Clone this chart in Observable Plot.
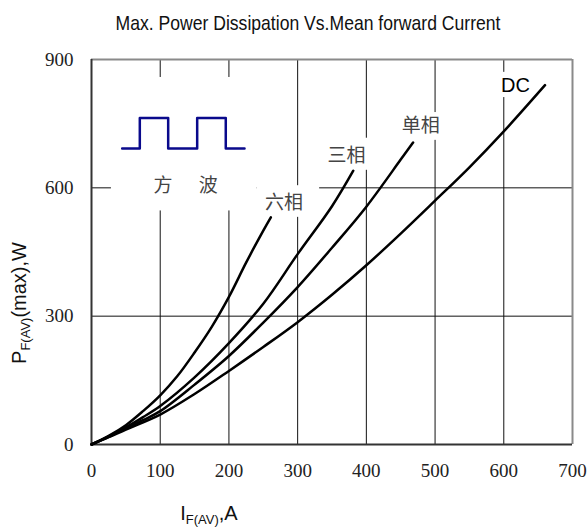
<!DOCTYPE html>
<html>
<head>
<meta charset="utf-8">
<script src="https://cdn.jsdelivr.net/npm/d3@7"></script>
<script src="https://cdn.jsdelivr.net/npm/@observablehq/plot@0.6"></script>
<style>
  html, body { margin: 0; padding: 0; background: #fff; }
  #chart { width: 588px; height: 530px; }
</style>
</head>
<body>
<div id="chart"></div>
<script>
// ---- data ----
const title = "Max. Power Dissipation Vs.Mean forward Current";
const xTicks = [0, 100, 200, 300, 400, 500, 600, 700];
const yTicks = [0, 300, 600, 900];
const gridX = [100, 200, 300, 400, 500, 600];
const gridY = [300, 600];

const dcI = [0, 25, 50, 100, 150, 200, 250, 300, 350, 400, 450, 500, 550, 600, 660];
const dcP = [0, 17, 35, 70, 118, 172, 228, 286, 350, 419, 493, 570, 648, 732, 840];
const singleI = [0, 25, 50, 75, 100, 150, 200, 250, 300, 350, 400, 450, 468];
const singleP = [0, 18, 38, 57, 78, 140, 207, 285, 368, 460, 556, 666, 706];
const threeI = [0, 25, 50, 75, 100, 150, 200, 250, 300, 350, 381];
const threeP = [0, 19, 40, 64, 90, 157, 237, 329, 445, 557, 640];
const sixI = [0, 25, 50, 75, 100, 125, 150, 175, 200, 225, 250, 261];
const sixP = [0, 20, 45, 78, 115, 160, 215, 275, 345, 425, 500, 531];

const seriesNames = ["DC", "单相", "三相", "六相"];
const labelI = [617, 479, 371, 280];
const labelP = [840, 744, 674, 565];

// square-wave legend symbol
const waveI = [44.6, 70.3, 70.3, 111.6, 111.6, 153.8, 153.8, 195.4, 195.4, 222.7];
const waveP = [692, 692, 763, 763, 692, 692, 763, 763, 692, 692];
const waveText = ["方", "波"];
const waveTextI = [104, 170];
const waveTextP = [604, 604];

// blank (white) areas behind legend & labels
const boxI1 = [29, 241, 336, 447, 591];
const boxI2 = [241, 332, 406, 515, 643];
const boxP1 = [546, 531, 641, 711, 811];
const boxP2 = [858, 605, 716, 776, 870];

// ---- build tables ----
const seriesData = [
  ...dcI.map((x, i) => ({name: "DC", x, y: dcP[i]})),
  ...singleI.map((x, i) => ({name: "单相", x, y: singleP[i]})),
  ...threeI.map((x, i) => ({name: "三相", x, y: threeP[i]})),
  ...sixI.map((x, i) => ({name: "六相", x, y: sixP[i]}))
];
const labels = seriesNames.map((t, i) => ({t, x: labelI[i], y: labelP[i]}));
const wave = waveI.map((x, i) => ({x, y: waveP[i]}));
const waveLabels = waveText.map((t, i) => ({t, x: waveTextI[i], y: waveTextP[i]}));
const boxes = boxI1.map((x1, i) => ({x1, x2: boxI2[i], y1: boxP1[i], y2: boxP2[i]}));

const cjk = "Noto Sans CJK SC";
const sans = "Liberation Sans";
const serif = "Liberation Serif";

const chart = Plot.plot({
  width: 588,
  height: 530,
  marginLeft: 91,
  marginRight: 16,
  marginTop: 59,
  marginBottom: 86,
  style: {fontSize: "19px", color: "#222", background: "#fff"},
  x: {domain: [0, 700], axis: null},
  y: {domain: [0, 900], axis: null},
  marks: [
    Plot.ruleX(gridX, {stroke: "#111", strokeWidth: 1}),
    Plot.ruleY(gridY, {stroke: "#111", strokeWidth: 1}),
    Plot.rect(boxes, {x1: "x1", x2: "x2", y1: "y1", y2: "y2", fill: "white"}),
    Plot.ruleY([900], {stroke: "#8a8a8a", strokeWidth: 2}),
    Plot.ruleX([700], {stroke: "#8a8a8a", strokeWidth: 2}),
    Plot.ruleX([0], {stroke: "#333", strokeWidth: 2}),
    Plot.ruleY([0], {stroke: "#333", strokeWidth: 2}),
    // tick labels (serif)
    Plot.text(xTicks, {x: d => d, frameAnchor: "bottom", dy: 32, text: d => String(d), fontFamily: serif, fontSize: 19, fill: "#222"}),
    Plot.text(yTicks, {y: d => d, frameAnchor: "left", dx: -18, textAnchor: "end", text: d => String(d), fontFamily: serif, fontSize: 19, fill: "#222"}),
    Plot.line(wave, {x: "x", y: "y", stroke: "#0a0a8c", strokeWidth: 2.5, curve: "linear"}),
    Plot.text(waveLabels, {x: "x", y: "y", text: "t", fontFamily: cjk, fontSize: 19, fill: "#444"}),
    Plot.line(seriesData, {x: "x", y: "y", z: "name", stroke: "black", strokeWidth: 2.5, curve: "catmull-rom"}),
    Plot.text(labels.filter(d => d.t !== "DC"), {x: "x", y: "y", text: "t", fontFamily: cjk, fontSize: 19, fill: "#444"}),
    Plot.text(labels.filter(d => d.t === "DC"), {x: "x", y: "y", text: "t", fontFamily: sans, fontSize: 20, fill: "#000"})
  ]
});

const svg = d3.select(chart);

// title
svg.append("text")
  .attr("x", 308).attr("y", 30)
  .attr("text-anchor", "middle")
  .attr("textLength", 385)
  .attr("lengthAdjust", "spacingAndGlyphs")
  .attr("font-family", sans)
  .attr("font-size", 21)
  .attr("fill", "#111")
  .text(title);

// x axis label
const xl = svg.append("text")
  .attr("x", 209).attr("y", 520)
  .attr("font-family", sans).attr("font-size", 20).attr("fill", "#111");
xl.append("tspan").text("I");
xl.append("tspan").attr("dy", 4).attr("font-size", 13).text("F(AV)");
xl.append("tspan").attr("dy", -4).text(",A");

// y axis label
const yl = svg.append("text")
  .attr("transform", "translate(26,303) rotate(-90)")
  .attr("text-anchor", "middle")
  .attr("font-family", sans).attr("font-size", 20).attr("fill", "#111");
yl.append("tspan").text("P");
yl.append("tspan").attr("dy", 4).attr("font-size", 13).text("F(AV)");
yl.append("tspan").attr("dy", -4).text("(max),W");

document.getElementById("chart").appendChild(chart);
</script>
</body>
</html>
